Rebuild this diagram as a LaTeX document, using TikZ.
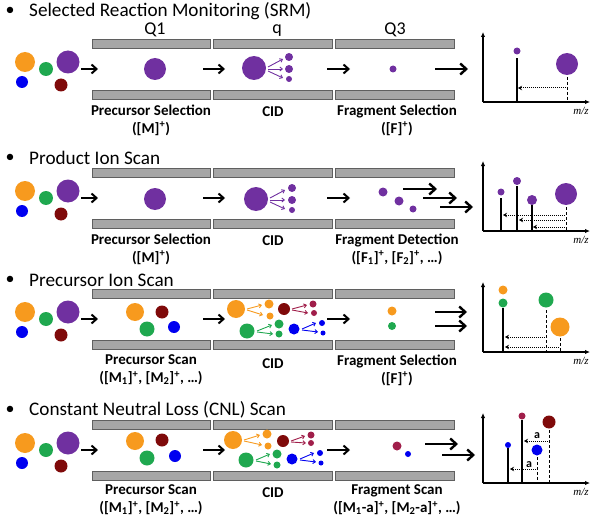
\documentclass[tikz,border=0pt]{standalone}
\usepackage{fontspec}
\setmainfont{Carlito}
\newfontfamily\mzfont{Liberation Serif}
\usetikzlibrary{arrows.meta}

\definecolor{ionorange}{HTML}{F79A1E}
\definecolor{iongreen}{HTML}{1FA84F}
\definecolor{ionpurple}{HTML}{7030A0}
\definecolor{ionblue}{HTML}{0000F0}
\definecolor{iondred}{HTML}{7F0A0A}
\definecolor{ioncrim}{HTML}{A01E4A}
\definecolor{barfill}{HTML}{A6A6A6}
\definecolor{barline}{HTML}{5F5F5F}

\begin{document}
\begin{tikzpicture}[x=1pt, y=-1pt,
  bar/.style={fill=barfill, draw=barline, line width=0.8pt},
  flow/.style={-{Straight Barb[length=5pt,width=9pt]}, line width=2pt},
  bigflow/.style={-{Straight Barb[length=6pt,width=11pt]}, line width=2.4pt},
  frag/.style={-{Straight Barb[length=2.5pt,width=4pt]}, line width=0.9pt},
  axis/.style={-{Latex[length=5pt,width=4.5pt]}, line width=1.2pt},
  peak/.style={line width=1.3pt},
  probe/.style={dash pattern=on 3pt off 2pt, line width=1pt},
  shiftarr/.style={densely dotted, line width=1pt, -{Stealth[length=4pt,width=4.5pt]}},
  dot/.style={inner sep=1pt, font=\fontsize{18}{20}\selectfont},
  title/.style={anchor=west, inner sep=1pt, font=\fontsize{19.2}{22}\selectfont},
  stage/.style={inner sep=1pt, font=\fontsize{18}{20}\selectfont},
  caption/.style={font=\bfseries\fontsize{15}{18}\selectfont, align=center},
]
  \useasboundingbox (0,0) rectangle (600,519);

  % Common parts of the four panels: rods, ion mixture, arrows, spectrum axes
  \foreach \yc/\pn in {69/srm, 198/pis, 319/prec, 450/cnl} {
    \begin{scope}[shift={(0,\yc)}]
      % quadrupole rods (top and bottom)
      \draw[bar] (92,-30) rectangle (210,-21);
      \draw[bar] (213,-30) rectangle (332,-21);
      \draw[bar] (335,-30) rectangle (454,-21);
      \draw[bar] (92,21) rectangle (210,30);
      \draw[bar] (213,21) rectangle (332,30);
      \draw[bar] (335,21) rectangle (454,30);
      % ion mixture at the source
      \fill[ionorange] (25,-7) circle (10pt);
      \fill[iongreen] (46,0) circle (7pt);
      \fill[ionpurple] (68,-7) circle (11.5pt);
      \fill[ionblue] (22,13) circle (6pt);
      \fill[iondred] (61,16) circle (6.5pt);
      % transfer arrows
      \draw[flow] (81,0) -- (98,0);
      \draw[flow] (203,0) -- (225,0);
      \draw[flow] (327,0) -- (350,0);
      % spectrum axes
      \draw[axis] (483,33) -- (483,-37);
      \draw[axis] (483,33) -- (590,33);
      \node[font=\mzfont\itshape\fontsize{11}{12}\selectfont] (mz-\pn) at (581,42) {m/z};
    \end{scope}
  }

  % Panel titles
  \node[dot] (b1) at (10,11) {•};
  \node[title] (t1) at (28,11) {Selected Reaction Monitoring (SRM)};
  \node[dot] (b2) at (10,158) {•};
  \node[title] (t2) at (28,158) {Product Ion Scan};
  \node[dot] (b3) at (10,280) {•};
  \node[title] (t3) at (28,280) {Precursor Ion Scan};
  \node[dot] (b4) at (10,410) {•};
  \node[title] (t4) at (28,410) {Constant Neutral Loss (CNL) Scan};

  % ---- Selected Reaction Monitoring ----
  \begin{scope}[shift={(0,69)}]
    \node[stage] (q1) at (155,-39) {Q1};
    \node[stage] (q2) at (277,-38) {q};
    \node[stage] (q3) at (395,-39) {Q3};
    \fill[ionpurple] (155,0) circle (11pt);
    % CID
    \fill[ionpurple] (254,-1) circle (12pt);
    \draw[frag, ionpurple] (268,-2) -- (283,-10);
    \draw[frag, ionpurple] (268,0) -- (283,0);
    \draw[frag, ionpurple] (268,2) -- (283,9);
    \fill[ionpurple] (289,-12) circle (4pt);
    \fill[ionpurple] (289,0) circle (4pt);
    \fill[ionpurple] (289,10) circle (3pt);
    % Q3
    \fill[ionpurple] (393,0) circle (3.5pt);
    \draw[bigflow] (435,0) -- (468,0);
    % spectrum
    \draw[peak] (517,33) -- (517,-11);
    \fill[ionpurple] (517,-18) circle (3.5pt);
    \fill[ionpurple] (567,-5) circle (11pt);
    \draw[probe] (567,8) -- (567,33);
    \draw[shiftarr] (566,19) -- (518,19);
    \node[caption] (c1a) at (151,51) {Precursor Selection\\([M]\textsuperscript{+})};
    \node[caption] (c1b) at (273,43) {CID};
    \node[caption] (c1c) at (397,51) {Fragment Selection\\([F]\textsuperscript{+})};
  \end{scope}

  % ---- Product Ion Scan ----
  \begin{scope}[shift={(0,198)}]
    \fill[ionpurple] (155,1) circle (11pt);
    % CID
    \fill[ionpurple] (256,1) circle (12pt);
    \draw[frag, ionpurple] (270,0) -- (285,-8);
    \draw[frag, ionpurple] (270,2) -- (285,2);
    \draw[frag, ionpurple] (270,4) -- (285,11);
    \fill[ionpurple] (292,-10) circle (4pt);
    \fill[ionpurple] (292,2) circle (4pt);
    \fill[ionpurple] (292,12) circle (3pt);
    % Q3
    \fill[ionpurple] (383,-6) circle (4.5pt);
    \fill[ionpurple] (399,3) circle (4.5pt);
    \fill[ionpurple] (413,11) circle (3.5pt);
    \draw[bigflow] (403,-9) -- (437,-9);
    \draw[bigflow] (423,0) -- (457,0);
    \draw[bigflow] (440,9) -- (473,9);
    % spectrum
    \draw[peak] (501,33) -- (501,0);
    \fill[ionpurple] (501,-6) circle (3.5pt);
    \draw[peak] (517,33) -- (517,-12);
    \fill[ionpurple] (517,-17) circle (4pt);
    \draw[peak] (532,33) -- (532,7);
    \fill[ionpurple] (532,2) circle (5pt);
    \fill[ionpurple] (566,-4) circle (11pt);
    \draw[probe] (566,9) -- (566,33);
    \draw[shiftarr] (565,17) -- (503,17);
    \draw[shiftarr] (565,22) -- (519,22);
    \draw[shiftarr] (565,29) -- (533,29);
    \node[caption] (c2a) at (151,51) {Precursor Selection\\([M]\textsuperscript{+})};
    \node[caption] (c2b) at (273,43) {CID};
    \node[caption] (c2c) at (397,51) {Fragment Detection\\([F\textsubscript{1}]\textsuperscript{+}, [F\textsubscript{2}]\textsuperscript{+}, \dots)};
  \end{scope}

  % ---- Precursor Ion Scan ----
  \begin{scope}[shift={(0,319)}]
    \fill[ionorange] (135,-7) circle (9pt);
    \fill[iondred] (162,-7) circle (6.5pt);
    \fill[iongreen] (147,10) circle (7.5pt);
    \fill[ionblue] (174,8) circle (6pt);
    % CID
    \fill[ionorange] (236,-10) circle (9pt);
    \draw[frag, ionorange] (247,-10) -- (262,-14);
    \draw[frag, ionorange] (247,-9) -- (263,-4);
    \fill[ionorange] (269,-15) circle (4.5pt);
    \fill[ionorange] (270,-3) circle (3.5pt);
    \fill[iondred] (284,-10) circle (6pt);
    \draw[frag, ioncrim] (292,-10) -- (307,-14);
    \draw[frag, ioncrim] (292,-9) -- (308,-6);
    \fill[ioncrim] (313,-15) circle (3.5pt);
    \fill[ioncrim] (314,-6) circle (3pt);
    \fill[iongreen] (247,12) circle (7.5pt);
    \draw[frag, iongreen] (257,12) -- (272,6);
    \draw[frag, iongreen] (257,13) -- (273,15);
    \fill[iongreen] (279,5) circle (4.5pt);
    \fill[iongreen] (279,15) circle (3.5pt);
    \fill[ionblue] (294,10) circle (5.5pt);
    \draw[frag, ionblue] (302,10) -- (316,4);
    \draw[frag, ionblue] (302,11) -- (318,13);
    \fill[ionblue] (322,4) circle (3pt);
    \fill[ionblue] (323,14) circle (2.5pt);
    % Q3
    \fill[ionorange] (392,-8) circle (4.5pt);
    \fill[iongreen] (392,7) circle (4pt);
    \draw[bigflow] (435,-7) -- (467,-7);
    \draw[bigflow] (435,7) -- (467,7);
    % spectrum
    \draw[peak] (503,33) -- (503,-11);
    \fill[iongreen] (503,-16) circle (4.5pt);
    \fill[ionorange] (503,-29) circle (4.5pt);
    \fill[iongreen] (546,-19) circle (7.5pt);
    \draw[probe] (546,-9) -- (546,33);
    \fill[ionorange] (560,8) circle (9.5pt);
    \draw[probe] (560,19) -- (560,33);
    \draw[shiftarr] (545,18) -- (505,18);
    \draw[shiftarr] (559,28) -- (505,28);
    \node[caption] (c3a) at (151,51) {Precursor Scan\\([M\textsubscript{1}]\textsuperscript{+}, [M\textsubscript{2}]\textsuperscript{+}, \dots)};
    \node[caption] (c3b) at (273,45) {CID};
    \node[caption] (c3c) at (397,51) {Fragment Selection\\([F]\textsuperscript{+})};
  \end{scope}

  % ---- Constant Neutral Loss Scan ----
  \begin{scope}[shift={(0,450)}]
    \fill[ionorange] (135,-9) circle (9pt);
    \fill[iondred] (162,-10) circle (6.5pt);
    \fill[iongreen] (147,8) circle (7.5pt);
    \fill[ionblue] (175,6) circle (6pt);
    % CID
    \fill[ionorange] (233,-10) circle (9pt);
    \draw[frag, ionorange] (244,-10) -- (260,-15);
    \draw[frag, ionorange] (244,-9) -- (262,-5);
    \fill[ionorange] (267,-16) circle (4.5pt);
    \fill[ionorange] (268,-4) circle (3.5pt);
    \fill[iondred] (283,-9) circle (6pt);
    \draw[frag, ioncrim] (291,-9) -- (305,-14);
    \draw[frag, ioncrim] (291,-8) -- (306,-7);
    \fill[ioncrim] (311,-15) circle (3.5pt);
    \fill[ioncrim] (311,-7) circle (3pt);
    \fill[iongreen] (246,10) circle (7.5pt);
    \draw[frag, iongreen] (256,10) -- (270,4);
    \draw[frag, iongreen] (256,11) -- (271,14);
    \fill[iongreen] (277,4) circle (4.5pt);
    \fill[iongreen] (277,15) circle (3.5pt);
    \fill[ionblue] (292,9) circle (5.5pt);
    \draw[frag, ionblue] (300,9) -- (314,3);
    \draw[frag, ionblue] (300,10) -- (316,12);
    \fill[ionblue] (320,3) circle (3pt);
    \fill[ionblue] (321,13) circle (2.5pt);
    % Q3
    \fill[ioncrim] (397,-4) circle (4.5pt);
    \fill[ionblue] (408,4) circle (3pt);
    \draw[bigflow] (425,-6) -- (458,-6);
    \draw[bigflow] (442,5) -- (475,5);
    % spectrum
    \draw[peak] (508,33) -- (508,-2);
    \fill[ionblue] (508,-5) circle (3pt);
    \draw[peak] (522,33) -- (522,-30);
    \fill[ioncrim] (522,-34) circle (3.5pt);
    \fill[iondred] (549,-28) circle (6.5pt);
    \draw[probe] (549,-20) -- (549,33);
    \fill[ionblue] (537,0) circle (5.5pt);
    \draw[probe] (537,7) -- (537,33);
    \draw[shiftarr] (548,-9) -- (524,-9);
    \node[font=\bfseries\fontsize{12}{13}\selectfont] (loss1) at (537,-14) {a};
    \draw[shiftarr] (536,19) -- (510,19);
    \node[font=\bfseries\fontsize{12}{13}\selectfont] (loss2) at (529,15) {a};
    \node[caption] (c4a) at (151,50) {Precursor Scan\\([M\textsubscript{1}]\textsuperscript{+}, [M\textsubscript{2}]\textsuperscript{+}, \dots)};
    \node[caption] (c4b) at (273,43) {CID};
    \node[caption] (c4c) at (397,50) {Fragment Scan\\([M\textsubscript{1}-a]\textsuperscript{+}, [M\textsubscript{2}-a]\textsuperscript{+}, \dots)};
  \end{scope}
\end{tikzpicture}
\end{document}
